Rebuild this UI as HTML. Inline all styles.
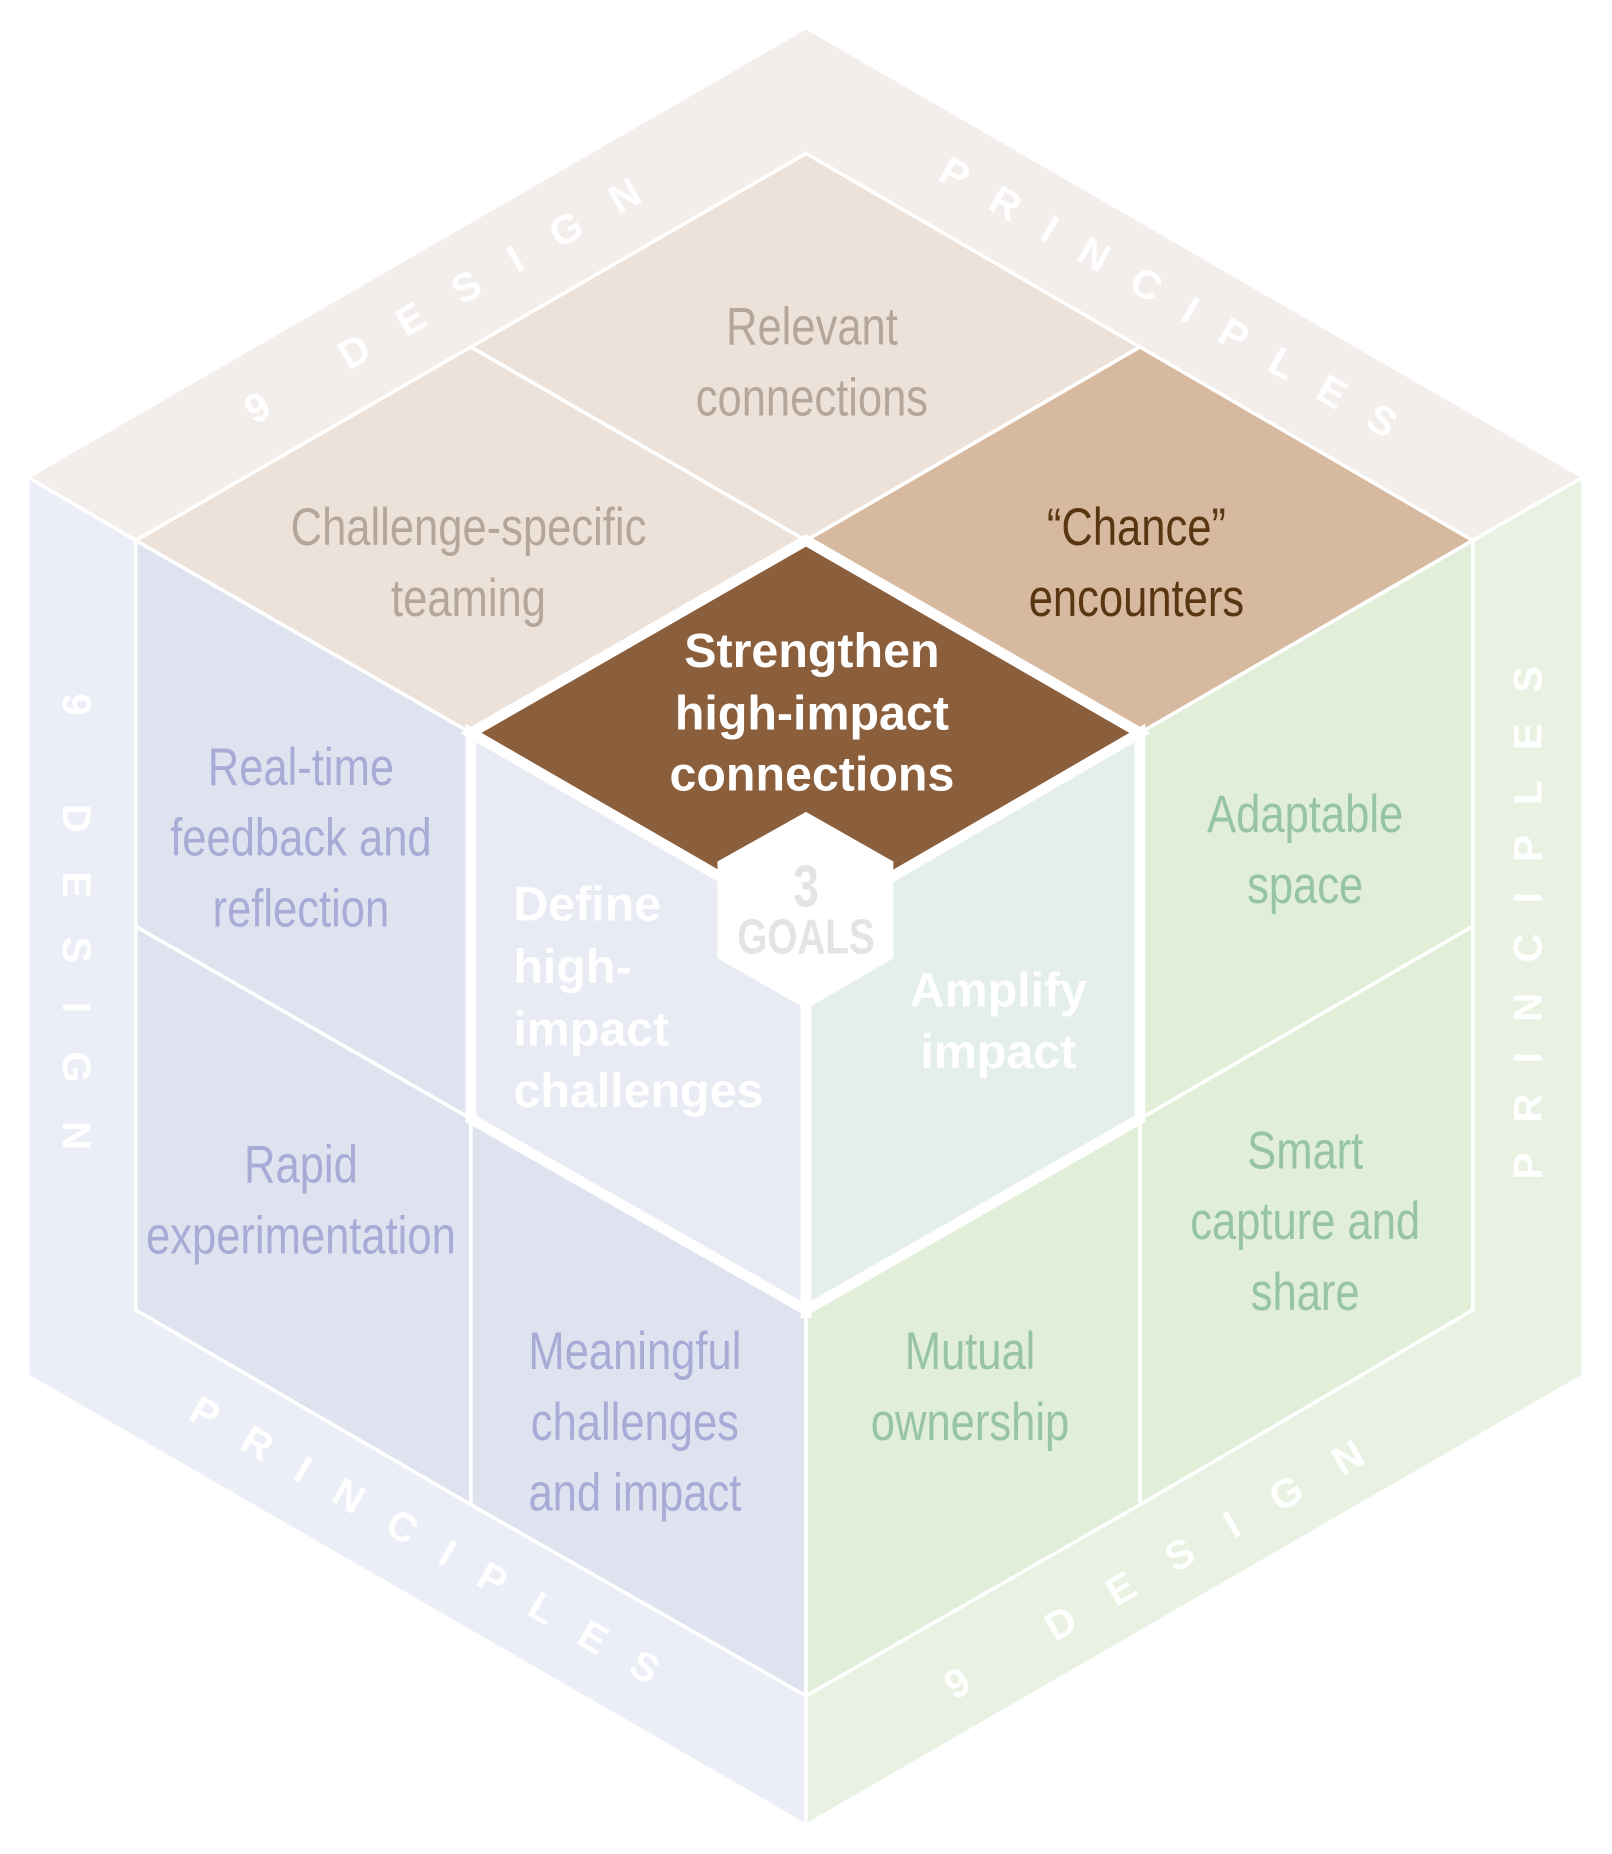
<!DOCTYPE html>
<html><head><meta charset="utf-8"><style>
html,body{margin:0;padding:0;background:#fff;}
svg{display:block;}
.l{font-family:"Liberation Sans",sans-serif;font-size:45px;text-anchor:middle;transform-box:fill-box;transform-origin:center;transform:scaleX(0.82);}
.b{font-family:"Liberation Sans",sans-serif;font-weight:bold;font-size:41px;fill:#fff;}
.band{font-family:"Liberation Sans",sans-serif;font-weight:bold;font-size:34px;fill:#fff;dominant-baseline:central;text-anchor:middle;}
.g{font-family:"Liberation Sans",sans-serif;font-weight:bold;fill:#e4e4e4;text-anchor:middle;transform-box:fill-box;transform-origin:center;transform:scaleX(0.78);}
</style></head><body>
<svg width="1612" height="1854" viewBox="0 0 1366 1571" preserveAspectRatio="none" xmlns="http://www.w3.org/2000/svg">
<polygon points="683,25 1340,405 1248,458 683,130 115,458 25,405" fill="#f3eeeb"/>
<polygon points="25,405 115,458 115,1110 683,1437 683,1545 25,1165" fill="#eceef7"/>
<polygon points="1340,405 1340,1165 683,1545 683,1437 1248,1110 1248,458" fill="#e9f2e2"/>
<g stroke="#fff" stroke-width="3" fill="none">
<line x1="25" y1="405" x2="115" y2="458"/><line x1="1340" y1="405" x2="1248" y2="458"/><line x1="683" y1="1437" x2="683" y2="1545"/>
</g>
<g stroke="#fff" stroke-width="3">
<polygon points="683,130 966,294 683,458 399,294" fill="#ede2da"/>
<polygon points="399,294 683,458 399,621 115,458" fill="#ede2da"/>
<polygon points="966,294 1248,458 966,621 683,458" fill="#d7b9a0"/>
<polygon points="115,458 399,621 399,948 115,785" fill="#dfe3f0"/>
<polygon points="115,785 399,948 399,1275 115,1110" fill="#dfe3f0"/>
<polygon points="399,948 683,1110 683,1437 399,1275" fill="#dfe3f0"/>
<polygon points="966,621 1248,458 1248,785 966,948" fill="#e1eed8"/>
<polygon points="966,948 1248,785 1248,1110 966,1275" fill="#e1eed8"/>
<polygon points="683,1110 966,948 966,1275 683,1437" fill="#e1eed8"/>
</g>
<g stroke="#fff" stroke-width="9" stroke-linejoin="miter">
<polygon points="399,621 683,785 683,1110 399,948" fill="#e8eaf4"/>
<polygon points="966,621 966,948 683,1110 683,785" fill="#e5efea"/>
<polygon points="683,458 966,621 683,785 399,621" fill="#8b5e3c"/>
</g>
<polygon points="683,688 757,730 757,812 683,855 608,812 608,730" fill="#fff"/>
<text x="683" y="768" class="g" font-size="50">3</text>
<text x="683" y="808" class="g" font-size="42">GOALS</text>
<g fill="#b5a69a">
<text x="688" y="292" class="l">Relevant</text><text x="688" y="352" class="l">connections</text>
<text x="397" y="462" class="l">Challenge-specific</text><text x="397" y="522" class="l">teaming</text>
</g>
<text x="963" y="462" class="l" fill="#5a3512">“Chance”</text><text x="963" y="522" class="l" fill="#5a3512">encounters</text>
<g fill="#a7abd6">
<text x="255" y="665" class="l">Real-time</text><text x="255" y="725" class="l">feedback and</text><text x="255" y="785" class="l">reflection</text>
<text x="255" y="1002" class="l">Rapid</text><text x="255" y="1062" class="l">experimentation</text>
<text x="538" y="1160" class="l">Meaningful</text><text x="538" y="1220" class="l">challenges</text><text x="538" y="1280" class="l">and impact</text>
</g>
<g fill="#97c3a8">
<text x="1106" y="705" class="l">Adaptable</text><text x="1106" y="765" class="l">space</text>
<text x="1106" y="990" class="l">Smart</text><text x="1106" y="1050" class="l">capture and</text><text x="1106" y="1110" class="l">share</text>
<text x="822" y="1160" class="l">Mutual</text><text x="822" y="1220" class="l">ownership</text>
</g>
<g class="b" text-anchor="middle">
<text x="688" y="565">Strengthen</text><text x="688" y="618">high-impact</text><text x="688" y="670">connections</text>
<text x="846" y="853">Amplify</text><text x="846" y="905">impact</text>
</g>
<g class="b">
<text x="435" y="780">Define</text><text x="435" y="833">high-</text><text x="435" y="886">impact</text><text x="435" y="938">challenges</text>
</g>
<text class="band" transform="translate(375,255) rotate(-30)" textLength="381" lengthAdjust="spacing" x="0" y="0">9 DESIGN</text>
<text class="band" transform="translate(990,252) rotate(30)" textLength="441" lengthAdjust="spacing" x="0" y="0">PRINCIPLES</text>
<text class="band" transform="translate(65,781) rotate(90)" textLength="387" lengthAdjust="spacing" x="0" y="0">9 DESIGN</text>
<text class="band" transform="translate(1295,782) rotate(-90)" textLength="435" lengthAdjust="spacing" x="0" y="0">PRINCIPLES</text>
<text class="band" transform="translate(360,1305) rotate(30)" textLength="453" lengthAdjust="spacing" x="0" y="0">PRINCIPLES</text>
<text class="band" transform="translate(978,1330) rotate(-30)" textLength="404" lengthAdjust="spacing" x="0" y="0">9 DESIGN</text>
</svg>
</body></html>
